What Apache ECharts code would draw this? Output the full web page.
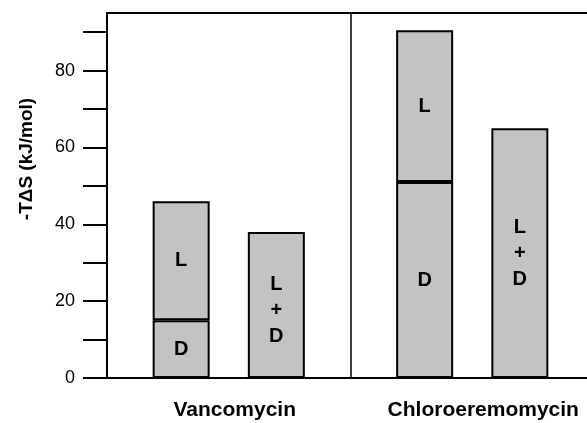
<!DOCTYPE html>
<html>
<head>
<meta charset="utf-8">
<script src="https://cdn.jsdelivr.net/npm/echarts@6/dist/echarts.min.js"></script>
<style>
  html, body { margin: 0; padding: 0; background: #fff; }
  #chart { width: 587px; height: 423px; }
</style>
</head>
<body>
<div id="chart"></div>
<script>
var categories = ['Vancomycin', 'Chloroeremomycin'];
var dValues = [15, 51];        // D part of the stacked bar
var lValues = [31, 39.5];      // L part stacked on top of D
var ldValues = [38, 65];       // L + D measured together
var yTicks = [0, 10, 20, 30, 40, 50, 60, 70, 80, 90];
var yLabels = [0, 20, 40, 60, 80];

var FONT = "'Liberation Sans', Arial, Helvetica, sans-serif";
var barFill = '#c3c3c3';

var chart = echarts.init(document.getElementById('chart'));

var barStyle = { color: barFill, borderColor: '#000', borderWidth: 2 };
var inLabel = {
  show: true, position: 'inside', color: '#000',
  fontFamily: FONT, fontWeight: 'bold', fontSize: 20, lineHeight: 26
};

var option = {
  animation: false,
  backgroundColor: '#fff',
  grid: {
    left: 107, top: 13, bottom: 45, width: 487,
    outerBoundsMode: 'none', containLabel: false,
    show: true, borderColor: '#000', borderWidth: 2
  },
  xAxis: {
    type: 'category',
    data: categories,
    axisLine: { lineStyle: { color: '#000', width: 2 } },
    axisTick: { show: false },
    splitLine: { show: true, lineStyle: { color: '#000', width: 1.5 } },
    axisLabel: {
      margin: 22,
      formatter: function (v, i) { return i === 0 ? '{a|' + v + '}' : '{b|' + v + '}'; },
      rich: {
        a: { fontFamily: FONT, fontWeight: 'bold', fontSize: 21, color: '#000', padding: [0, 0, 0, 12] },
        b: { fontFamily: FONT, fontWeight: 'bold', fontSize: 21, color: '#000', padding: [0, 0, 0, 22] }
      }
    }
  },
  yAxis: {
    type: 'value',
    min: 0, max: 95, interval: 10,
    axisLine: { show: true, lineStyle: { color: '#000', width: 2 } },
    axisTick: { show: true, length: 24, customValues: yTicks, lineStyle: { color: '#000', width: 2 } },
    splitLine: { show: false },
    axisLabel: {
      margin: 32, color: '#000', fontFamily: FONT, fontSize: 18,
      customValues: yLabels
    }
  },
  series: [
    {
      name: 'D', type: 'bar', stack: 'dl', data: dValues,
      barWidth: 57, barGap: '67%',
      itemStyle: barStyle,
      label: Object.assign({}, inLabel, { formatter: 'D' })
    },
    {
      name: 'L', type: 'bar', stack: 'dl', data: lValues,
      barWidth: 57, barGap: '67%',
      itemStyle: barStyle,
      label: Object.assign({}, inLabel, { formatter: 'L' })
    },
    {
      name: 'L+D', type: 'bar', data: ldValues.map(function (v, i) {
        return i === 0 ? { value: v, label: { offset: [0, 5] } } : v;
      }),
      barWidth: 57, barGap: '67%',
      itemStyle: barStyle,
      label: Object.assign({}, inLabel, { formatter: 'L\n+\nD' })
    }
  ],
  graphic: [{
    type: 'text',
    x: 27, y: 159,
    rotation: Math.PI / 2,
    style: {
      text: '-T\u0394S (kJ/mol)',
      fontFamily: FONT, fontWeight: 'bold', fontSize: 19,
      fill: '#000', align: 'center', verticalAlign: 'middle'
    }
  }]
};

chart.setOption(option);
</script>
</body>
</html>
